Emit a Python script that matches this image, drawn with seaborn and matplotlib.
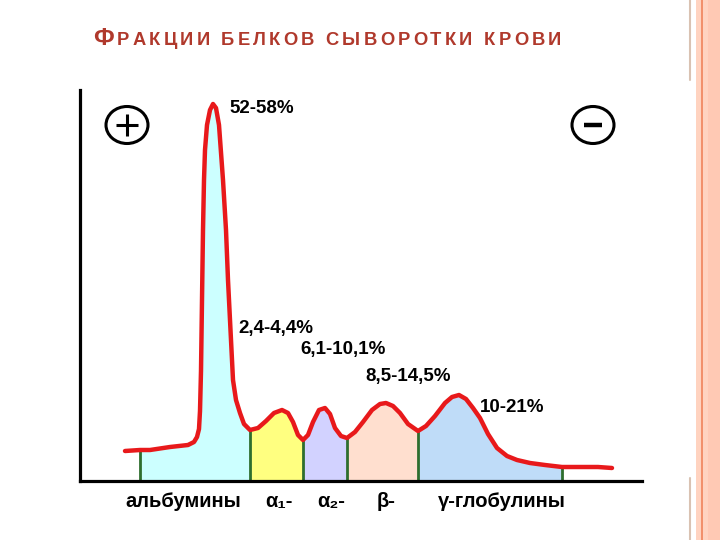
import numpy as np
import matplotlib
matplotlib.use("Agg")
import matplotlib.pyplot as plt
import seaborn as sns
from matplotlib.patches import Ellipse, Rectangle
from matplotlib.lines import Line2D

# --- данные: кривая электрофореграммы (положение, интенсивность) ---
curve_x = [45, 60, 70, 90, 108, 114, 117, 119, 120, 121, 122, 123, 124, 125, 127, 130, 133,
           136, 139, 143, 146, 148, 150, 153, 156, 160, 164, 170, 178, 186, 194, 202,
           208, 213, 218, 223, 228, 233, 239, 245, 250, 255, 261, 267, 275, 283, 292,
           300, 306, 313, 320, 328, 338, 346, 355, 365, 372, 379, 386, 393, 400, 408,
           417, 427, 437, 450, 465, 482, 500, 518, 532]
curve_y = [30, 31, 31, 34, 36, 39, 44, 52, 70, 110, 181, 251, 301, 331, 356, 371, 377,
           373, 356, 301, 251, 201, 161, 101, 81, 68, 57, 51, 53, 60, 68, 71,
           68, 59, 46, 41, 46, 59, 71, 73, 67, 53, 45, 43, 49, 59, 71,
           77, 78, 75, 68, 57, 50, 55, 65, 78, 84, 86, 82, 73, 63, 47,
           33, 25, 21, 18, 16, 14, 14, 14, 13]

# границы фракций и их цвета
bounds = [60, 170, 223, 267, 338, 482]
fraction_colors = ['#CCFFFF', '#FFFF80', '#D2D2FF', '#FFDFCF', '#BFDCF8']

# подписи процентов (левый край, базовая линия)
pct_labels = ['52-58%', '2,4-4,4%', '6,1-10,1%', '8,5-14,5%', '10-21%']
pct_x = [149, 158, 220, 285, 400]
pct_y = [368, 148, 127, 100, 69]

# подписи фракций под осью
frac_labels = ['альбумины', 'α₁-', 'α₂-', 'β-', 'γ-глобулины']
frac_x = [45, 185, 237, 297, 358]
frac_y = -26

# полюса
pole_signs = ['+', '_']
pole_x = [47, 513]
pole_y = [356, 356]

sns.set_style("white")
plt.rcParams['font.family'] = ['Liberation Sans', 'DejaVu Sans']
plt.rcParams['text.color'] = 'black'

fig = plt.figure(figsize=(7.2, 5.4), dpi=100)
ax = fig.add_axes([80 / 720, 59 / 540, 562 / 720, 391 / 540])
ax.set_xlim(0, 562)
ax.set_ylim(0, 391)

# заливка фракций
for (a, b), c in zip(zip(bounds[:-1], bounds[1:]), fraction_colors):
    xs = [a] + [x for x in curve_x if a < x < b] + [b]
    ys = np.interp(xs, curve_x, curve_y)
    ax.fill_between(xs, 0, ys, color=c, lw=0, zorder=1)

# зелёные разделители
ax.vlines(bounds, 0, np.interp(bounds, curve_x, curve_y), color='#2E6E2E', lw=2, zorder=2)

# кривая
sns.lineplot(x=curve_x, y=curve_y, sort=False, color='#E8191B', lw=3.2, ax=ax, zorder=3)

# оси
for s in ['top', 'right']:
    ax.spines[s].set_visible(False)
for s in ['left', 'bottom']:
    ax.spines[s].set_linewidth(2.3)
    ax.spines[s].set_color('black')
ax.set_xticks([])
ax.set_yticks([])
ax.set_xlabel('')
ax.set_ylabel('')

# полюса + и −
for sgn, px, py in zip(pole_signs, pole_x, pole_y):
    ax.add_patch(Ellipse((px, py), 42, 37, fill=False, ec='black', lw=2.2, zorder=4))
    ax.plot([px], [py], marker=sgn, ms=16 if sgn == '+' else 13,
            mew=2.2 if sgn == '+' else 3.2, color='black', zorder=4)

for t, x, y in zip(pct_labels, pct_x, pct_y):
    ax.text(x, y, t, fontsize=13.5, fontweight='bold', color='black',
            ha='left', va='baseline')

for t, x in zip(frac_labels, frac_x):
    ax.text(x, frac_y, t, fontsize=14.5, fontweight='bold', color='black',
            ha='left', va='baseline', clip_on=False)

# заголовок: «Ф» крупнее, остальные буквы разрежены
title_color = '#B0392C'
base_y = 1 - 45 / 540
prev = fig.text(93 / 720, base_y, 'Ф', fontsize=17.5, fontweight='bold', color=title_color,
                va='baseline', ha='left')
for ch in 'РАКЦИИ БЕЛКОВ СЫВОРОТКИ КРОВИ':
    prev = ax.annotate(ch, xy=(1, base_y), xycoords=(prev, 'figure fraction'),
                       xytext=(2.3, 0), textcoords='offset points', fontsize=13.2,
                       fontweight='bold', color=title_color, va='baseline', ha='left',
                       annotation_clip=False)

# оформление правого края слайда
fig.add_artist(Line2D([690 / 720] * 2, [1, 1 - 80 / 540], transform=fig.transFigure,
                      color='#D9C2B2', lw=1.5))
fig.add_artist(Line2D([690 / 720] * 2, [0, 1 - 478 / 540], transform=fig.transFigure,
                      color='#D9C2B2', lw=1.5))
fig.add_artist(Rectangle((696 / 720, 0), 24 / 720, 1, transform=fig.transFigure,
                         color='#FFD3C0', lw=0))
fig.add_artist(Rectangle((708 / 720, 0), 12 / 720, 1, transform=fig.transFigure,
                         color='#FFC9B4', lw=0))
fig.add_artist(Line2D([702 / 720] * 2, [0, 1], transform=fig.transFigure,
                      color='#F0835A', lw=1.2))

fig.savefig('out.png', dpi=100)
